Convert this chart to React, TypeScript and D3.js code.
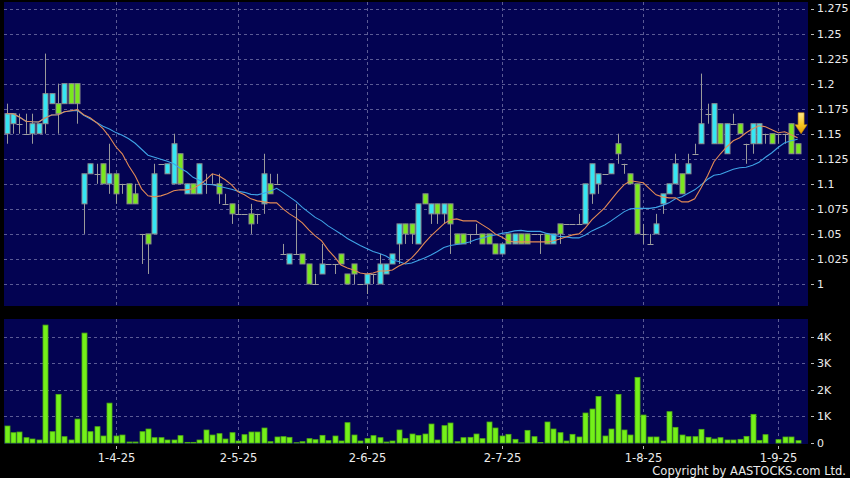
import React, { useEffect } from 'react';
import * as d3 from 'd3';

// ---- Data ----
const openP = [
  1.15, 1.16, 1.16, 1.15, 1.15, 1.15, 1.16, 1.18, 1.18, 1.18, 1.20, 1.20,
  1.08, 1.11, 1.11, 1.12, 1.10, 1.11, 1.10, 1.10, 1.09, 1.05, 1.05, 1.05,
  1.12, 1.11, 1.10, 1.13, 1.09, 1.10, 1.09, 1.10, 1.10, 1.10, 1.08, 1.08,
  1.07, 1.07, 1.07, 1.07, 1.08, 1.10, 1.10, 1.03, 1.02, 1.03, 1.03, 1.02,
  1.00, 1.01, 1.02, 1.02, 1.03, 1.01, 1.02, 1.00, 1.00, 1.01, 1.00, 1.01,
  1.02, 1.04, 1.06, 1.06, 1.04, 1.09, 1.07, 1.08, 1.07, 1.08, 1.05, 1.05,
  1.05, 1.05, 1.05, 1.05, 1.04, 1.03, 1.05, 1.04, 1.05, 1.05, 1.05, 1.05,
  1.05, 1.04, 1.06, 1.06, 1.06, 1.06, 1.06, 1.09, 1.10, 1.11, 1.11, 1.14,
  1.12, 1.11, 1.10, 1.05, 1.04, 1.05, 1.08, 1.09, 1.10, 1.11, 1.11, 1.13,
  1.14, 1.17, 1.14, 1.16, 1.13, 1.16, 1.16, 1.14, 1.14, 1.14, 1.15, 1.15,
  1.15, 1.15, 1.16, 1.14,
];
const highP = [
  1.18, 1.17, 1.17, 1.17, 1.17, 1.16, 1.23, 1.19, 1.20, 1.20, 1.20, 1.20,
  1.11, 1.12, 1.12, 1.12, 1.14, 1.11, 1.10, 1.10, 1.10, 1.05, 1.05, 1.12,
  1.12, 1.12, 1.15, 1.13, 1.10, 1.10, 1.12, 1.11, 1.11, 1.11, 1.09, 1.08,
  1.08, 1.07, 1.08, 1.07, 1.13, 1.11, 1.11, 1.04, 1.03, 1.08, 1.03, 1.02,
  1.01, 1.04, 1.02, 1.02, 1.03, 1.01, 1.02, 1.00, 1.01, 1.01, 1.03, 1.02,
  1.03, 1.06, 1.06, 1.06, 1.08, 1.09, 1.08, 1.08, 1.08, 1.08, 1.05, 1.05,
  1.05, 1.06, 1.05, 1.05, 1.04, 1.04, 1.05, 1.05, 1.05, 1.05, 1.05, 1.05,
  1.05, 1.05, 1.06, 1.06, 1.06, 1.07, 1.10, 1.12, 1.11, 1.11, 1.12, 1.15,
  1.12, 1.11, 1.10, 1.06, 1.05, 1.07, 1.09, 1.10, 1.13, 1.11, 1.13, 1.14,
  1.21, 1.18, 1.18, 1.16, 1.16, 1.17, 1.16, 1.14, 1.16, 1.16, 1.15, 1.15,
  1.15, 1.15, 1.16, 1.14,
];
const lowP = [
  1.14, 1.15, 1.15, 1.15, 1.14, 1.15, 1.15, 1.18, 1.15, 1.18, 1.18, 1.16,
  1.05, 1.11, 1.10, 1.10, 1.09, 1.08, 1.09, 1.08, 1.08, 1.02, 1.01, 1.05,
  1.12, 1.11, 1.10, 1.10, 1.09, 1.09, 1.09, 1.09, 1.10, 1.08, 1.08, 1.06,
  1.07, 1.07, 1.05, 1.06, 1.07, 1.09, 1.10, 1.03, 1.02, 1.03, 1.02, 1.00,
  1.00, 1.01, 1.02, 1.01, 1.02, 1.00, 1.00, 1.00, 0.99, 1.00, 1.00, 1.01,
  1.02, 1.02, 1.04, 1.04, 1.04, 1.08, 1.06, 1.06, 1.06, 1.03, 1.04, 1.04,
  1.04, 1.05, 1.04, 1.04, 1.03, 1.03, 1.04, 1.04, 1.04, 1.04, 1.05, 1.03,
  1.04, 1.04, 1.04, 1.06, 1.06, 1.06, 1.06, 1.08, 1.09, 1.11, 1.11, 1.12,
  1.11, 1.10, 1.05, 1.04, 1.04, 1.05, 1.07, 1.09, 1.10, 1.09, 1.11, 1.13,
  1.14, 1.16, 1.14, 1.14, 1.13, 1.16, 1.15, 1.12, 1.13, 1.14, 1.14, 1.14,
  1.14, 1.14, 1.13, 1.13,
];
const closeP = [
  1.17, 1.17, 1.16, 1.15, 1.16, 1.16, 1.19, 1.19, 1.17, 1.20, 1.18, 1.18,
  1.11, 1.12, 1.11, 1.10, 1.11, 1.09, 1.10, 1.08, 1.08, 1.05, 1.04, 1.11,
  1.12, 1.12, 1.14, 1.10, 1.10, 1.09, 1.12, 1.10, 1.10, 1.09, 1.08, 1.07,
  1.07, 1.07, 1.06, 1.07, 1.11, 1.09, 1.10, 1.03, 1.03, 1.03, 1.02, 1.00,
  1.00, 1.02, 1.02, 1.02, 1.02, 1.00, 1.01, 1.00, 1.01, 1.01, 1.02, 1.02,
  1.03, 1.06, 1.05, 1.05, 1.08, 1.08, 1.08, 1.07, 1.08, 1.06, 1.04, 1.04,
  1.05, 1.05, 1.04, 1.04, 1.03, 1.04, 1.04, 1.05, 1.04, 1.04, 1.05, 1.05,
  1.04, 1.05, 1.05, 1.06, 1.06, 1.06, 1.10, 1.12, 1.11, 1.11, 1.12, 1.13,
  1.12, 1.10, 1.05, 1.05, 1.04, 1.06, 1.09, 1.10, 1.12, 1.09, 1.12, 1.13,
  1.16, 1.17, 1.18, 1.14, 1.16, 1.16, 1.15, 1.14, 1.16, 1.16, 1.15, 1.14,
  1.15, 1.15, 1.13, 1.13,
];
const volumes = [
  639, 388, 413, 200, 150, 113, 4437, 426, 1830, 238, 113, 900,
  4136, 426, 614, 263, 1500, 263, 300, 38, 38, 426, 526, 200,
  200, 113, 113, 276, 25, 25, 113, 489, 300, 351, 150, 388,
  75, 313, 413, 413, 564, 50, 226, 238, 213, 10, 50, 163,
  125, 288, 88, 263, 75, 764, 300, 75, 163, 276, 200, 38,
  75, 489, 175, 338, 288, 338, 714, 113, 652, 752, 50, 200,
  213, 338, 163, 790, 564, 263, 326, 138, 5, 476, 238, 20,
  790, 526, 388, 75, 326, 226, 1128, 1278, 1754, 263, 526, 1830,
  489, 300, 2470, 1052, 226, 226, 75, 1178, 589, 300, 238, 238,
  514, 213, 150, 200, 113, 113, 138, 250, 1078, 100, 313, 0,
  125, 226, 226, 88,
];

const xTickIndex = [17, 36, 56, 77, 99, 120];
const xTickLabels = ['1-4-25', '2-5-25', '2-6-25', '2-7-25', '1-8-25', '1-9-25'];
const priceTicks = [1, 1.025, 1.05, 1.075, 1.1, 1.125, 1.15, 1.175, 1.2, 1.225, 1.25, 1.275];
const priceTickLabels = ['1', '1.025', '1.05', '1.075', '1.1', '1.125', '1.15', '1.175', '1.2', '1.225', '1.25', '1.275'];
const volTicks = [0, 1000, 2000, 3000, 4000];
const volTickLabels = ['0', '1K', '2K', '3K', '4K'];
const maShort = 10;
const maLong = 20;

function movingAvg(vals: number[], n: number): number[] {
  return vals.map((_, i) => d3.mean(vals.slice(Math.max(0, i - n + 1), i + 1)) as number);
}

const W = 850;
const H = 478;
const PLOT_L = 4;
const PLOT_R = 808;
const PRICE_T = 2;
const PRICE_B = 306;
const VOL_T = 319;
const VOL_B = 444;

const NAVY = '#030352';
const GRID = '#5b5b95';
const CYAN = '#35e6f4';
const GREEN = '#7ae81e';
const EDGE = '#8d8d8d';
const TEXT = '#ececec';
const FONT = '"DejaVu Sans", Verdana, sans-serif';

export default function App() {
  useEffect(() => {
    document.body.style.margin = '0';
    document.body.style.background = '#000';
  }, []);

  const n = closeP.length;
  const x = d3.scaleLinear().domain([0, n - 1]).range([6.5, 797.6]);
  const y = d3.scaleLinear().domain([1, 1.275]).range([284, 8.5]);
  const yv = d3.scaleLinear().domain([0, 4000]).range([443, 336.7]);
  const bodyW = 5;
  const volW = 5;

  const ma10 = movingAvg(closeP, maShort);
  const ma20 = movingAvg(closeP, maLong);
  const line = d3
    .line<number>()
    .x((_, i) => x(i))
    .y((d) => y(d))
    .curve(d3.curveLinear);

  const lastX = x(n - 1) + 3.5;
  const tipY = y(1.15);

  return (
    <svg
      width={W}
      height={H}
      style={{ position: 'absolute', left: 0, top: 0, display: 'block' }}
      fontFamily={FONT}
    >
      <defs>
        <linearGradient id="arrowGrad" x1="0" y1="0" x2="0" y2="1">
          <stop offset="0%" stopColor="#ffe98a" />
          <stop offset="55%" stopColor="#f7c825" />
          <stop offset="100%" stopColor="#e09a00" />
        </linearGradient>
      </defs>
      <rect x={0} y={0} width={W} height={H} fill="#000" />
      {/* panels */}
      <rect x={PLOT_L} y={PRICE_T} width={PLOT_R - PLOT_L} height={PRICE_B - PRICE_T} fill={NAVY} />
      <rect x={PLOT_L} y={VOL_T} width={PLOT_R - PLOT_L} height={VOL_B - VOL_T} fill={NAVY} />

      {/* price grid */}
      {priceTicks.map((t) => (
        <line
          key={'pg' + t}
          x1={PLOT_L}
          x2={PLOT_R}
          y1={Math.round(y(t)) + 0.5}
          y2={Math.round(y(t)) + 0.5}
          stroke={GRID}
          strokeDasharray="3,3"
          strokeWidth={1}
        />
      ))}
      {volTicks.slice(1).map((t) => (
        <line
          key={'vg' + t}
          x1={PLOT_L}
          x2={PLOT_R}
          y1={Math.round(yv(t)) + 0.5}
          y2={Math.round(yv(t)) + 0.5}
          stroke={GRID}
          strokeDasharray="3,3"
          strokeWidth={1}
        />
      ))}
      {xTickIndex.map((ti) => {
        const gx = Math.round(x(ti)) + 0.5;
        return (
          <g key={'xg' + ti}>
            <line x1={gx} x2={gx} y1={PRICE_T} y2={PRICE_B} stroke={GRID} strokeDasharray="3,3" />
            <line x1={gx} x2={gx} y1={VOL_T} y2={VOL_B} stroke={GRID} strokeDasharray="3,3" />
          </g>
        );
      })}

      {/* candles */}
      {closeP.map((c, i) => {
        const o = openP[i];
        const cx = Math.round(x(i)) + 0.5;
        const yo = y(o);
        const yc = y(c);
        const top = Math.min(yo, yc);
        const bot = Math.max(yo, yc);
        const flat = Math.abs(c - o) < 1e-9;
        return (
          <g key={'c' + i}>
            <line x1={cx} x2={cx} y1={y(highP[i])} y2={y(lowP[i])} stroke="#9a9a9a" strokeWidth={1} />
            {flat ? (
              <line
                x1={cx - bodyW / 2 - 0.5}
                x2={cx + bodyW / 2 + 0.5}
                y1={Math.round(yo) + 0.5}
                y2={Math.round(yo) + 0.5}
                stroke="#a0a0a0"
                strokeWidth={1}
              />
            ) : (
              <rect
                x={cx - bodyW / 2}
                y={top}
                width={bodyW}
                height={bot - top}
                fill={c > o ? CYAN : GREEN}
                stroke={EDGE}
                strokeWidth={1}
              />
            )}
          </g>
        );
      })}

      {/* moving averages */}
      <path d={line(ma20) || ''} fill="none" stroke="#3fa3e6" strokeWidth={1.1} />
      <path d={line(ma10) || ''} fill="none" stroke="#e38b56" strokeWidth={1.1} />

      {/* last price arrow */}
      <path
        d={`M${lastX - 3},${tipY - 21} L${lastX + 3},${tipY - 21} L${lastX + 3},${tipY - 9} L${lastX + 6},${tipY - 9} L${lastX},${tipY} L${lastX - 6},${tipY - 9} L${lastX - 3},${tipY - 9} Z`}
        fill="url(#arrowGrad)"
        stroke="#c98a00"
        strokeWidth={0.6}
      />

      {/* volume bars */}
      {volumes.map((v, i) => {
        const cx = Math.round(x(i)) + 0.5;
        const top = yv(v);
        return (
          <rect
            key={'v' + i}
            x={cx - volW / 2}
            y={top}
            width={volW}
            height={Math.max(0, yv(0) - top)}
            fill="#74f01a"
            stroke="#4fae12"
            strokeWidth={0.8}
          />
        );
      })}

      {/* price axis */}
      {priceTicks.map((t, k) => (
        <g key={'pt' + t}>
          <line x1={811} x2={814} y1={Math.round(y(t)) + 0.5} y2={Math.round(y(t)) + 0.5} stroke="#bbb" />
          <text x={817} y={y(t)} dy="0.36em" fill={TEXT} fontSize={11}>
            {priceTickLabels[k]}
          </text>
        </g>
      ))}
      {/* volume axis */}
      {volTicks.map((t, k) => (
        <g key={'vt' + t}>
          <line x1={811} x2={814} y1={Math.round(yv(t)) + 0.5} y2={Math.round(yv(t)) + 0.5} stroke="#bbb" />
          <text x={817} y={yv(t)} dy="0.36em" fill={TEXT} fontSize={11}>
            {volTickLabels[k]}
          </text>
        </g>
      ))}
      {/* date axis */}
      {xTickIndex.map((ti, k) => {
        const tx = Math.round(x(ti)) + 0.5;
        return (
          <g key={'xt' + ti}>
            <line x1={tx} x2={tx} y1={446} y2={449} stroke="#bbb" />
            <text x={tx} y={462} textAnchor="middle" fill={TEXT} fontSize={11.5}>
              {xTickLabels[k]}
            </text>
          </g>
        );
      })}
      <text x={846} y={475} textAnchor="end" fill={TEXT} fontSize={11.5}>
        Copyright by AASTOCKS.com Ltd.
      </text>
    </svg>
  );
}
